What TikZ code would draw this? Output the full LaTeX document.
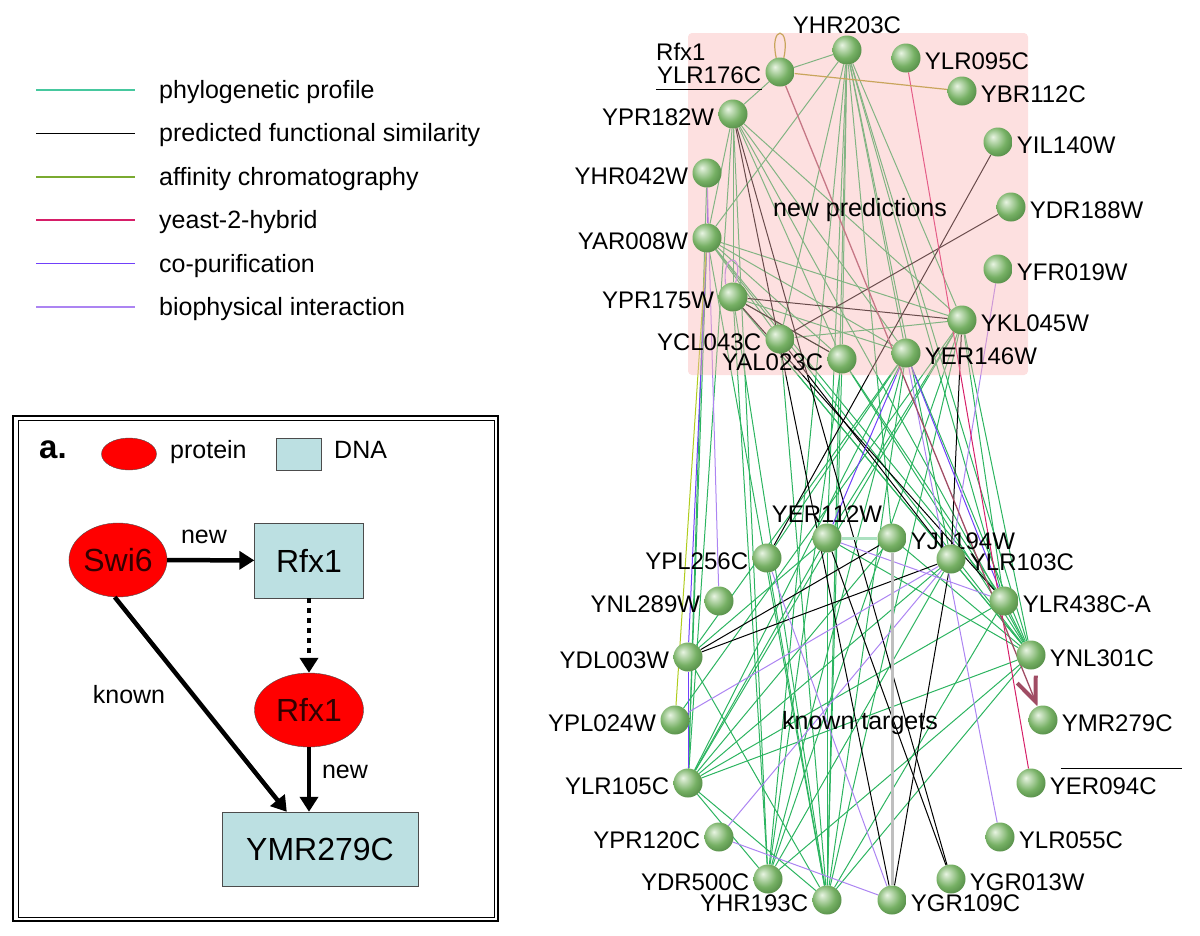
\documentclass[tikz,border=0pt]{standalone}
\usepackage{fontspec}
\setmainfont{Liberation Sans}
\usepackage{tikz}
\usetikzlibrary{arrows.meta,shapes,positioning}
\usetikzlibrary{calc}

\definecolor{phylo}{RGB}{70,200,158}
\definecolor{affin}{RGB}{122,170,48}
\definecolor{ytwoh}{RGB}{214,30,104}
\definecolor{copur}{RGB}{112,64,250}
\definecolor{biophys}{RGB}{172,132,242}
\definecolor{edgegreen}{RGB}{44,180,96}
\definecolor{tanline}{RGB}{167,155,30}
\definecolor{rfxarrow}{RGB}{160,76,100}
\definecolor{pinkbox}{RGB}{250,180,180}
\definecolor{protred}{RGB}{255,0,0}
\definecolor{dnablue}{RGB}{188,224,226}
\definecolor{sphlight}{RGB}{232,244,226}
\definecolor{sphmid}{RGB}{118,176,100}
\definecolor{sphdark}{RGB}{66,122,56}
\pgfdeclareradialshading{genesphere}{\pgfpoint{-9bp}{9bp}}{color(0bp)=(sphlight);
  color(6bp)=(sphlight!70!sphmid); color(20bp)=(sphmid); color(38bp)=(sphdark); color(60bp)=(sphdark)}

\pgfdeclarelayer{edgelayer}
\pgfdeclarelayer{shadelayer}
\pgfsetlayers{edgelayer,shadelayer,main}

\newcommand{\legfont}{\fontsize{25}{30}\selectfont}
\newcommand{\genefont}{\fontsize{24}{28}\selectfont}
\newcommand{\bigfont}{\fontsize{32}{38}\selectfont}

\begin{document}
\begin{tikzpicture}[x=1pt, y=-1pt,
    gene/.style={circle, minimum size=29pt, inner sep=0pt, shading=genesphere},
    glab/.style={font=\genefont, inner sep=1pt, label distance=3pt, yshift=-3pt},
    glabtop/.style={font=\genefont, inner sep=1pt, label distance=0pt},
    phy/.style={draw=edgegreen, line width=1pt},
    pfs/.style={draw=black, line width=1pt},
    aff/.style={draw=affin!60!yellow, line width=1pt},
    yth/.style={draw=ytwoh, line width=1pt},
    cop/.style={draw=copur, line width=1pt},
    bio/.style={draw=biophys, line width=1pt},
    prot/.style={ellipse, draw=black!70, fill=protred, font=\bigfont, text=black!80!red},
    dna/.style={rectangle, draw=black!70, fill=dnablue, font=\bigfont},
    bigarrow/.style={line width=4.5pt, -{Triangle[length=15pt,width=18pt]}},
    ann/.style={font=\legfont, inner sep=0pt}]
  \useasboundingbox (0,0) rectangle (1200,935);

  % edge legend
  \foreach \col/\txt [count=\i] in {phylo/phylogenetic profile, black/predicted functional similarity,
      affin/affinity chromatography, ytwoh/yeast-2-hybrid, copur/co-purification,
      biophys/biophysical interaction} {
    \draw[\col, line width=1.6pt] (36,{90+43.4*(\i-1)}) -- ++(99,0);
    \node[ann, anchor=base west] at (159,{98.5+43.4*(\i-1)}) {\txt};
  }

  % panel a.
  \draw[line width=2pt] (13,416) rectangle (498,921);
  \draw[line width=0.9pt] (18,420) rectangle (494,917);
  \node[font=\bfseries\fontsize{33}{40}\selectfont, inner sep=0pt, anchor=base] (plabel) at (53,458) {a.};
  \node[prot, minimum width=55pt, minimum height=32pt] (legprot) at (129,454) {};
  \node[ann, anchor=base west] (legprottxt) at (170,458) {protein};
  \node[dna, minimum width=45pt, minimum height=32pt] (legdna) at (298.5,454) {};
  \node[ann, anchor=base west] (legdnatxt) at (334,458) {DNA};

  \node[prot, minimum width=98pt, minimum height=74pt, inner sep=0pt] (swi6) at (118,560) {Swi6};
  \node[dna, minimum width=109pt, minimum height=75pt] (rfxdna) at (309,560.5) {Rfx1};
  \node[prot, minimum width=109pt, minimum height=74pt, inner sep=0pt] (rfxprot) at (309,710) {Rfx1};
  \node[dna, minimum width=196pt, minimum height=74pt] (ymrdna) at (320,849) {YMR279C};

  \draw[bigarrow] (swi6) -- (rfxdna);
  \draw[bigarrow, dash pattern=on 5pt off 5pt] (rfxdna) -- (rfxprot);
  \draw[bigarrow] (rfxprot.south) -- (rfxprot.south |- ymrdna.north);
  \draw[bigarrow] (swi6.265) -- ([xshift=65pt]ymrdna.north west);
  \node[ann, anchor=base] (newtop) at (204,543) {new};
  \node[ann, anchor=base] (known) at (129,703) {known};
  \node[ann, anchor=base] (newbot) at (345,778) {new};

  % network: new predictions
  \node[gene, label={[glab, name=l176]left:YLR176C}] (ylr176c) at (780,72) {};
  \node[gene, label={[glabtop]above:YHR203C}] (yhr203c) at (847,50) {};
  \node[gene, label={[glab]right:YLR095C}] (ylr095c) at (906,58) {};
  \node[gene, label={[glab]right:YBR112C}] (ybr112c) at (962,91) {};
  \node[gene, label={[glab]left:YPR182W}] (ypr182w) at (733,114) {};
  \node[gene, label={[glab]right:YIL140W}] (yil140w) at (998,142) {};
  \node[gene, label={[glab]left:YHR042W}] (yhr042w) at (707,173) {};
  \node[gene, label={[glab]right:YDR188W}] (ydr188w) at (1011,207) {};
  \node[gene, label={[glab]left:YAR008W}] (yar008w) at (707,238) {};
  \node[gene, label={[glab]right:YFR019W}] (yfr019w) at (998,269) {};
  \node[gene, label={[glab]left:YPR175W}] (ypr175w) at (733,297) {};
  \node[gene, label={[glab]right:YKL045W}] (ykl045w) at (962,320) {};
  \node[gene, label={[glab]left:YCL043C}] (ycl043c) at (780,339) {};
  \node[gene, label={[glab]left:YAL023C}] (yal023c) at (842,359) {};
  \node[gene, label={[glab]right:YER146W}] (yer146w) at (906,353) {};
  \node[font=\genefont, anchor=west, inner sep=0pt] (rfxname) at (656,52) {Rfx1};
  \draw[line width=1.2pt] ([yshift=-5pt]l176.south west) -- ([yshift=-5pt]l176.south east);

  % network: known targets
  \node[gene, label={[glabtop]above:YER112W}] (yer112w) at (827,538) {};
  \node[gene, label={[glab]right:YJL194W}] (yjl194w) at (892,538) {};
  \node[gene, label={[glab]right:YLR103C}] (ylr103c) at (951,559) {};
  \node[gene, label={[glab]left:YPL256C}] (ypl256c) at (767,558) {};
  \node[gene, label={[glab]right:YLR438C-A}] (ylr438ca) at (1004,601) {};
  \node[gene, label={[glab]left:YNL289W}] (ynl289w) at (719,601) {};
  \node[gene, label={[glab]left:YDL003W}] (ydl003w) at (688,657) {};
  \node[gene, label={[glab]right:YNL301C}] (ynl301c) at (1031,655) {};
  \node[gene, label={[glab, name=l279]right:YMR279C}] (ymr279c) at (1043,720) {};
  \node[gene, label={[glab]left:YPL024W}] (ypl024w) at (675,720) {};
  \node[gene, label={[glab]left:YLR105C}] (ylr105c) at (688,783) {};
  \node[gene, label={[glab]right:YER094C}] (yer094c) at (1031,783) {};
  \node[gene, label={[glab]left:YPR120C}] (ypr120c) at (719,837) {};
  \node[gene, label={[glab]right:YLR055C}] (ylr055c) at (1000,837) {};
  \node[gene, label={[glab]left:YDR500C}] (ydr500c) at (768,879) {};
  \node[gene, label={[glab]right:YGR013W}] (ygr013w) at (951,879) {};
  \node[gene, label={[glab]left:YHR193C}] (yhr193c) at (827,900) {};
  \node[gene, label={[glab]right:YGR109C}] (ygr109c) at (892,900) {};
  \draw[line width=1.2pt] ([yshift=-36pt]l279.south west) -- ++(121,0);

  \node[ann] (newpred) at (860,210) {new predictions};
  \node[ann] (knowntg) at (860,723) {known targets};

  \begin{pgfonlayer}{shadelayer}
    \fill[pinkbox, fill opacity=0.42, rounded corners=4pt] (688,33) rectangle (1028,375);
  \end{pgfonlayer}

  \begin{pgfonlayer}{edgelayer}
    \foreach \a/\b in {ylr176c/yhr203c, ylr176c/ypr182w,
        yhr203c/yar008w, yhr203c/yal023c, yhr203c/ykl045w, yhr203c/yer146w, yhr203c/yer112w,
        yhr203c/yjl194w, yhr203c/ylr103c, yhr203c/ylr438ca, yhr203c/ynl301c, yhr203c/yhr193c,
        yhr203c/ydr500c, yhr203c/ycl043c,
        ypr182w/yar008w, ypr182w/ypr175w, ypr182w/yal023c, ypr182w/ykl045w, ypr182w/yer146w,
        ypr182w/ylr105c, ypr182w/ynl301c, ypr182w/ydr500c,
        yar008w/ykl045w, yar008w/yer146w, yar008w/ycl043c, yar008w/yal023c, yar008w/ylr105c,
        yar008w/yhr193c, yar008w/ylr438ca, yar008w/ynl301c,
        ypr175w/yal023c, ypr175w/yer146w, ypr175w/ydr500c, ypr175w/yhr193c, ypr175w/ynl301c,
        ypr175w/ylr103c, ycl043c/yhr193c, ycl043c/ykl045w,
        yal023c/yhr193c, yal023c/ydr500c, yal023c/ynl301c, yal023c/ylr438ca,
        ykl045w/ylr105c, ykl045w/ydr500c, ykl045w/yer112w, ykl045w/ypl024w, ykl045w/ynl301c,
        ykl045w/ylr438ca, ykl045w/yhr193c,
        yer146w/ylr105c, yer146w/ydl003w, yer146w/yhr193c, yer146w/ynl301c, yer146w/ypl256c,
        yer146w/ydr500c, yhr042w/ylr105c,
        yer112w/ynl301c, yer112w/ylr105c, yer112w/yhr193c, yer112w/ydl003w,
        yjl194w/ynl301c, yjl194w/ylr105c, ylr103c/ynl301c, ylr103c/ylr105c, ylr103c/ydr500c,
        ylr438ca/ylr105c, ylr438ca/ynl301c, ylr438ca/yhr193c,
        ynl301c/ylr105c, ynl301c/yhr193c, ynl301c/ydr500c,
        ylr105c/ydr500c, ylr105c/yhr193c, ypl256c/yhr193c, ydl003w/yhr193c}
      \draw[phy] (\a) -- (\b);
    \foreach \a/\b in {yil140w/ypl256c, ydr188w/ycl043c, ypr175w/ykl045w, ypr182w/ygr013w,
        ypr182w/ygr109c, ypr175w/ylr438ca, ycl043c/ylr103c, yer112w/ygr013w, ydl003w/ylr103c,
        ydl003w/yjl194w, ylr103c/ygr109c, ypr175w/yal023c, ykl045w/ylr103c}
      \draw[pfs] (\a) -- (\b);
    \foreach \a/\b in {yer146w/yer112w, yer146w/ylr438ca, yhr042w/yar008w, yar008w/ydl003w,
        ydl003w/ylr105c}
      \draw[cop] (\a) -- (\b);
    \foreach \a/\b in {yfr019w/ylr103c, yer146w/ylr055c, ypl024w/ylr103c, ypr120c/ylr103c,
        ypr120c/ygr109c, yer112w/ylr438ca, yhr042w/ynl289w, ypl256c/ygr109c}
      \draw[bio] (\a) -- (\b);
    \draw[yth] (ylr095c) -- (yer094c);
    \draw[aff] (yar008w) -- (ypl024w);
    \draw[tanline, line width=1.2pt] (ylr176c) -- (ybr112c);
    \draw[tanline, line width=1.2pt] (ylr176c.105) .. controls (769,25) and (791,25) .. (ylr176c.75);
    \draw[biophys, line width=1.2pt] (ypr175w.120) .. controls (721,252) and (745,252) .. (ypr175w.80);
    \draw[black!25, line width=3pt] (yjl194w) -- (ygr109c);
    \draw[edgegreen!40, line width=3pt] (yer112w) -- (yjl194w);
    \draw[rfxarrow, line width=1.3pt, -{Straight Barb[length=24pt,width=20pt,line width=4pt]}] (ylr176c) -- (ymr279c);
  \end{pgfonlayer}
\end{tikzpicture}
\end{document}
